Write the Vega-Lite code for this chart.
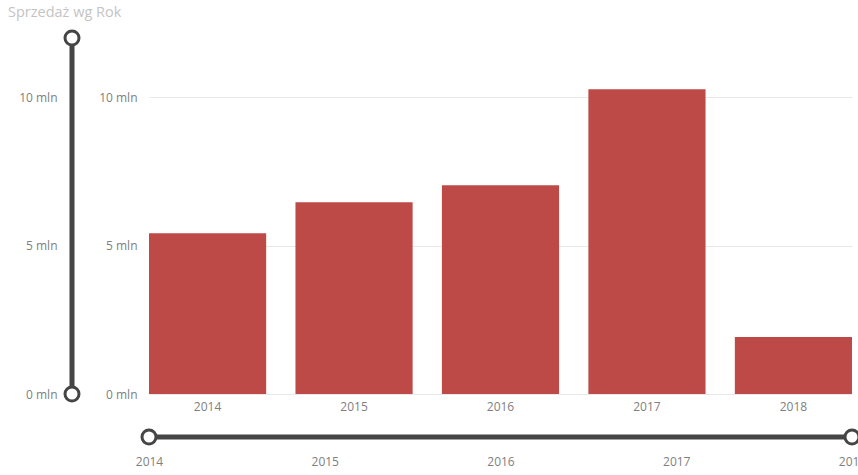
{
  "$schema": "https://vega.github.io/schema/vega-lite/v6.json",
  "autosize": {"type": "pad"},
  "padding": {"left": 8, "top": 4, "right": 0, "bottom": 8},
  "background": "white",
  "title": {
    "text": "Sprzedaż wg Rok",
    "anchor": "start",
    "frame": "group",
    "dx": -54,
    "offset": 5,
    "font": "Open Sans",
    "fontSize": 14.5,
    "fontWeight": "normal",
    "color": "#c4c4c4"
  },
  "config": {
    "view": {"stroke": null},
    "font": "Open Sans",
    "axis": {"labelFont": "Open Sans", "labelFontSize": 12, "labelColor": "#808080", "domain": false, "ticks": false, "title": null}
  },
  "datasets": {
    "sales": [
      {"Rok": "2014", "Sprzedaz": 5420000},
      {"Rok": "2015", "Sprzedaz": 6460000},
      {"Rok": "2016", "Sprzedaz": 7040000},
      {"Rok": "2017", "Sprzedaz": 10270000},
      {"Rok": "2018", "Sprzedaz": 1920000}
    ],
    "valueSlider": [
      {"end": "min", "v": 0},
      {"end": "max", "v": 12000000}
    ],
    "yearSlider": [
      {"end": "min", "year": 2014},
      {"end": "max", "year": 2018}
    ]
  },
  "columns": 2,
  "bounds": "flush",
  "spacing": {"column": 67, "row": 33},
  "concat": [
    {
      "width": 20,
      "height": 356,
      "data": {"name": "valueSlider"},
      "encoding": {
        "x": {"datum": 0, "type": "quantitative", "scale": {"domain": [-1, 1]}, "axis": null},
        "y": {
          "field": "v", "type": "quantitative",
          "scale": {"domain": [0, 12000000], "nice": false, "zero": false},
          "axis": {"values": [0, 5000000, 10000000], "grid": false, "labelPadding": 5, "labelExpr": "datum.value/1000000 + ' mln'"}
        }
      },
      "layer": [
        {"mark": {"type": "line", "color": "#454545", "strokeWidth": 5}},
        {"mark": {"type": "point", "shape": "circle", "size": 196, "filled": true, "fill": "white", "stroke": "#454545", "strokeWidth": 3, "opacity": 1}}
      ]
    },
    {
      "width": 703,
      "height": 356,
      "data": {"name": "sales"},
      "mark": {"type": "bar", "color": "#be4a47"},
      "encoding": {
        "x": {
          "field": "Rok", "type": "ordinal",
          "scale": {"paddingInner": 0.2, "paddingOuter": 0},
          "axis": {"labelAngle": 0, "labelPadding": 7}
        },
        "y": {
          "field": "Sprzedaz", "type": "quantitative",
          "scale": {"domain": [0, 12000000], "nice": false},
          "axis": {"values": [0, 5000000, 10000000], "grid": true, "gridColor": "#e8e8e8", "labelPadding": 12, "labelExpr": "datum.value/1000000 + ' mln'"}
        }
      }
    },
    {
      "width": 20,
      "height": 20,
      "data": {"values": []},
      "mark": "point"
    },
    {
      "width": 703,
      "height": 20,
      "data": {"name": "yearSlider"},
      "encoding": {
        "x": {
          "field": "year", "type": "quantitative",
          "scale": {"domain": [2014, 2018], "nice": false, "zero": false},
          "axis": {"values": [2014, 2015, 2016, 2017, 2018], "format": "d", "grid": false, "labelPadding": 9, "labelFlush": false, "labelOverlap": false}
        },
        "y": {"datum": 0, "type": "quantitative", "scale": {"domain": [-1, 1]}, "axis": null}
      },
      "layer": [
        {"mark": {"type": "line", "color": "#454545", "strokeWidth": 5}},
        {"mark": {"type": "point", "shape": "circle", "size": 196, "filled": true, "fill": "white", "stroke": "#454545", "strokeWidth": 3, "opacity": 1}}
      ]
    }
  ]
}
